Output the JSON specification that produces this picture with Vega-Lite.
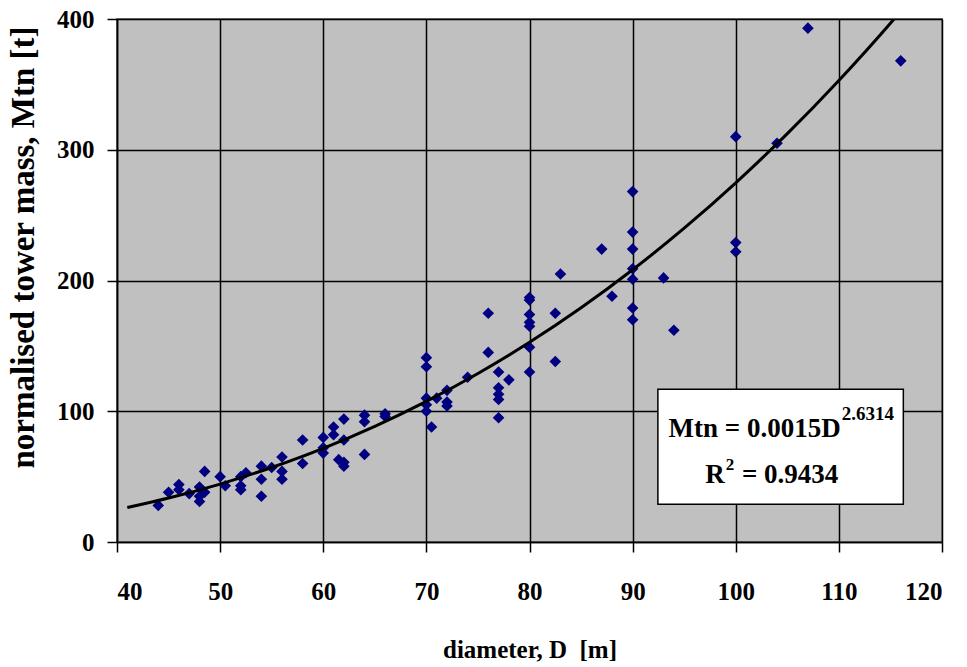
{
  "$schema": "https://vega.github.io/schema/vega-lite/v6.json",
  "autosize": "none",
  "width": 825,
  "height": 523,
  "padding": {"left": 117, "top": 19, "right": 25, "bottom": 125},
  "background": "white",
  "config": {
    "view": {"fill": "#C0C0C0", "stroke": "#808080", "strokeWidth": 2},
    "axis": {
      "labelFont": "Liberation Serif",
      "labelFontWeight": "bold",
      "labelFontSize": 25,
      "labelColor": "black",
      "titleFont": "Liberation Serif",
      "titleFontWeight": "bold",
      "titleColor": "black",
      "grid": true,
      "gridColor": "black",
      "gridWidth": 1.5,
      "gridOpacity": 1,
      "domainColor": "black",
      "domainWidth": 1.5,
      "tickColor": "black",
      "tickWidth": 1.5,
      "tickSize": 10
    }
  },
  "datasets": {
    "points": [
      {"D": 44, "M": 28}, {"D": 45, "M": 38}, {"D": 46, "M": 44}, {"D": 46, "M": 40},
      {"D": 47, "M": 37}, {"D": 48, "M": 42}, {"D": 48, "M": 35}, {"D": 48, "M": 31},
      {"D": 48.5, "M": 54}, {"D": 48.5, "M": 38}, {"D": 50, "M": 50}, {"D": 50.5, "M": 43},
      {"D": 52, "M": 50}, {"D": 52, "M": 43}, {"D": 52, "M": 40}, {"D": 52.5, "M": 53},
      {"D": 54, "M": 58}, {"D": 54, "M": 48}, {"D": 54, "M": 35}, {"D": 55, "M": 57},
      {"D": 56, "M": 65}, {"D": 56, "M": 54}, {"D": 56, "M": 48}, {"D": 58, "M": 78},
      {"D": 58, "M": 60}, {"D": 60, "M": 80}, {"D": 60, "M": 72}, {"D": 60, "M": 68},
      {"D": 61, "M": 88}, {"D": 61, "M": 82}, {"D": 61.5, "M": 63}, {"D": 62, "M": 94},
      {"D": 62, "M": 78}, {"D": 62, "M": 61}, {"D": 62, "M": 58}, {"D": 64, "M": 97},
      {"D": 64, "M": 92}, {"D": 64, "M": 67}, {"D": 66, "M": 98}, {"D": 66, "M": 96},
      {"D": 70, "M": 141}, {"D": 70, "M": 134}, {"D": 70, "M": 110}, {"D": 70, "M": 105},
      {"D": 70, "M": 100}, {"D": 70.5, "M": 88}, {"D": 71, "M": 110}, {"D": 72, "M": 116},
      {"D": 72, "M": 107}, {"D": 72, "M": 104}, {"D": 74, "M": 126}, {"D": 76, "M": 175},
      {"D": 76, "M": 145}, {"D": 77, "M": 130}, {"D": 77, "M": 118}, {"D": 77, "M": 113},
      {"D": 77, "M": 109}, {"D": 77, "M": 95}, {"D": 78, "M": 124}, {"D": 80, "M": 187},
      {"D": 80, "M": 185}, {"D": 80, "M": 174}, {"D": 80, "M": 168}, {"D": 80, "M": 165},
      {"D": 80, "M": 149}, {"D": 80, "M": 130}, {"D": 82.5, "M": 175}, {"D": 82.5, "M": 138},
      {"D": 83, "M": 205}, {"D": 87, "M": 224}, {"D": 88, "M": 188}, {"D": 90, "M": 268},
      {"D": 90, "M": 237}, {"D": 90, "M": 224}, {"D": 90, "M": 209}, {"D": 90, "M": 201},
      {"D": 90, "M": 179}, {"D": 90, "M": 170}, {"D": 93, "M": 202}, {"D": 94, "M": 162},
      {"D": 100, "M": 310}, {"D": 100, "M": 229}, {"D": 100, "M": 222}, {"D": 104, "M": 305},
      {"D": 107, "M": 393}, {"D": 116, "M": 368}
    ],
    "curve": [
      {"D": 41, "M": 26.3}, {"D": 45, "M": 33.6}, {"D": 50, "M": 44.3}, {"D": 55, "M": 57.0},
      {"D": 60, "M": 71.6}, {"D": 65, "M": 88.4}, {"D": 70, "M": 107.5}, {"D": 75, "M": 128.9},
      {"D": 80, "M": 152.7}, {"D": 85, "M": 179.1}, {"D": 90, "M": 208.2}, {"D": 95, "M": 240.0},
      {"D": 100, "M": 274.7}, {"D": 105, "M": 312.3}, {"D": 110, "M": 353.0}, {"D": 115, "M": 396.8},
      {"D": 116, "M": 406.0}
    ]
  },
  "layer": [
    {
      "data": {"name": "points"},
      "mark": {"type": "point", "shape": "diamond", "filled": true, "size": 135, "color": "#000080", "opacity": 1},
      "encoding": {
        "x": {
          "field": "D", "type": "quantitative",
          "scale": {"domain": [40, 120], "nice": false, "zero": false},
          "axis": {
            "values": [40, 50, 60, 70, 80, 90, 100, 110, 120],
            "title": "diameter, D\u00a0 [m]",
            "titleFontSize": 25,
            "titleBaseline": "alphabetic",
            "titleY": 115,
            "labelPadding": 27
          }
        },
        "y": {
          "field": "M", "type": "quantitative",
          "scale": {"domain": [0, 400], "nice": false},
          "axis": {
            "values": [0, 100, 200, 300, 400],
            "title": "normalised tower mass, Mtn [t]",
            "titleFontSize": 33,
            "titleBaseline": "alphabetic",
            "titleX": -84,
            "titleY": 228,
            "labelPadding": 13
          }
        }
      }
    },
    {
      "data": {"name": "curve"},
      "mark": {"type": "line", "color": "black", "strokeWidth": 3, "clip": true, "interpolate": "monotone"},
      "encoding": {
        "x": {"field": "D", "type": "quantitative"},
        "y": {"field": "M", "type": "quantitative"}
      }
    },
    {
      "data": {"values": [{}]},
      "mark": {"type": "rect", "fill": "white", "stroke": "black", "strokeWidth": 1.5},
      "encoding": {
        "x": {"datum": 92.45, "type": "quantitative"},
        "x2": {"datum": 116.25},
        "y": {"datum": 116.8, "type": "quantitative"},
        "y2": {"datum": 28.8}
      }
    },
    {
      "data": {"values": [{"t": "Mtn = 0.0015D"}]},
      "mark": {"type": "text", "font": "Liberation Serif", "fontWeight": "bold", "fontSize": 27, "align": "right", "baseline": "alphabetic", "color": "black"},
      "encoding": {
        "x": {"datum": 110.17, "type": "quantitative"},
        "y": {"datum": 80.5, "type": "quantitative"},
        "text": {"field": "t"}
      }
    },
    {
      "data": {"values": [{"t": "2.6314"}]},
      "mark": {"type": "text", "font": "Liberation Serif", "fontWeight": "bold", "fontSize": 19, "align": "left", "baseline": "alphabetic", "color": "black"},
      "encoding": {
        "x": {"datum": 110.27, "type": "quantitative"},
        "y": {"datum": 93.3, "type": "quantitative"},
        "text": {"field": "t"}
      }
    },
    {
      "data": {"values": [{"t": "R"}]},
      "mark": {"type": "text", "font": "Liberation Serif", "fontWeight": "bold", "fontSize": 27, "align": "right", "baseline": "alphabetic", "color": "black"},
      "encoding": {
        "x": {"datum": 98.93, "type": "quantitative"},
        "y": {"datum": 44.9, "type": "quantitative"},
        "text": {"field": "t"}
      }
    },
    {
      "data": {"values": [{"t": "2"}]},
      "mark": {"type": "text", "font": "Liberation Serif", "fontWeight": "bold", "fontSize": 17, "align": "left", "baseline": "alphabetic", "color": "black"},
      "encoding": {
        "x": {"datum": 99.03, "type": "quantitative"},
        "y": {"datum": 55.1, "type": "quantitative"},
        "text": {"field": "t"}
      }
    },
    {
      "data": {"values": [{"t": "= 0.9434"}]},
      "mark": {"type": "text", "font": "Liberation Serif", "fontWeight": "bold", "fontSize": 27, "align": "left", "baseline": "alphabetic", "color": "black"},
      "encoding": {
        "x": {"datum": 100.6, "type": "quantitative"},
        "y": {"datum": 44.9, "type": "quantitative"},
        "text": {"field": "t"}
      }
    }
  ]
}
